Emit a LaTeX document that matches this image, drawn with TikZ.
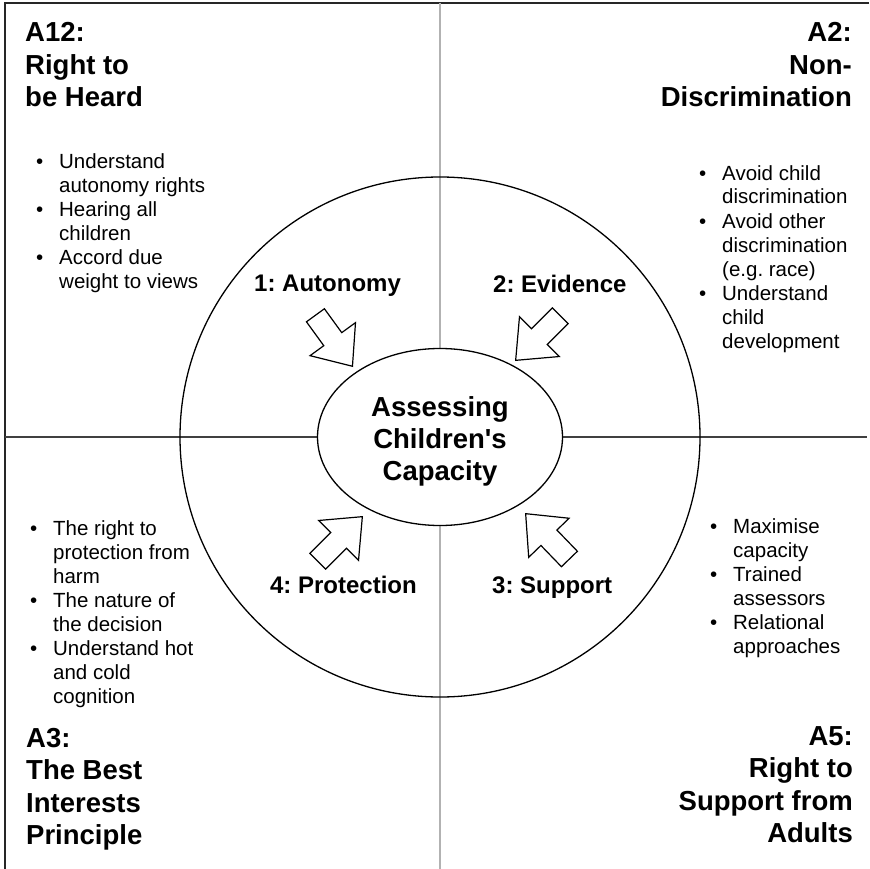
\documentclass[tikz,border=0pt]{standalone}
\usepackage{fontspec}
\setmainfont{Liberation Sans}
\usetikzlibrary{positioning,shapes.geometric,shapes.arrows}
\frenchspacing
\definecolor{divider}{gray}{0.25}
\definecolor{softgrey}{gray}{0.7}
\newcommand{\headL}[1]{\begin{tabular}[t]{@{}l@{}}#1\end{tabular}}
\newcommand{\headR}[1]{\begin{tabular}[t]{@{}r@{}}#1\end{tabular}}
\newcommand{\pointlist}[1]{\begin{tabular}[t]{@{}p{23pt}@{}l@{}}#1\end{tabular}}
\tikzset{
  frame line/.style={line width=2.4pt, black!85},
  quarter v/.style={line width=1.8pt, softgrey},
  quarter h/.style={line width=1.8pt, divider},
  ring/.style={circle, draw, line width=1.3pt, minimum size=520pt, inner sep=0pt},
  hub/.style={ellipse, draw, line width=1.3pt, fill=white, minimum width=245pt, minimum height=177pt, inner sep=0pt},
  hub text/.style={align=center, inner sep=0pt, font=\fontsize{27.5}{32}\selectfont\bfseries},
  head text/.style={inner sep=0pt, font=\fontsize{27.5}{32.5}\selectfont\bfseries},
  list text/.style={inner sep=0pt, anchor=base west, font=\fontsize{20.5}{24}\selectfont},
  arrow label/.style={inner sep=0pt, font=\fontsize{24}{28}\selectfont\bfseries},
  hollow arrow/.style={single arrow, draw, line width=1.2pt, fill=white, anchor=tip,
    minimum height=63pt, inner sep=10.5pt, single arrow head extend=17pt, single arrow tip angle=80},
}
\begin{document}
\begin{tikzpicture}[x=1pt, y=-1pt]
  \useasboundingbox (0,0) rectangle (869,869);
  % Frame and quarters
  \coordinate (nw) at (5,3);
  \coordinate (ne) at (869,3);
  \coordinate (sw) at (5,869);
  \coordinate (midN) at (440,3);
  \coordinate (midS) at (440,869);
  \coordinate (midW) at (5,437);
  \coordinate (midE) at (867,437);
  \draw[frame line] (ne) -- (nw) -- (sw);
  \draw[quarter v] (midN) -- (midS);
  \draw[quarter h] (midW) -- (midE);
  % Nodes
  \node[ring] (ring) at (440,437) {};
  \node[hub] (hub) at (440,437) {};
  \node[hub text] (hubtext) at (440,441) {Assessing\\Children\textquotesingle s\\Capacity};
  \node[hollow arrow, rotate=-54] (autonomy) at (353,367) {};
  \node[hollow arrow, rotate=-135] (evidence) at (515,361) {};
  \node[hollow arrow, rotate=134] (support) at (525,513) {};
  \node[hollow arrow, rotate=45] (protection) at (363,516) {};
  \node[arrow label, anchor=base west] (lblA) at (254,291) {1: Autonomy};
  \node[arrow label, anchor=base west] (lblE) at (493,292) {2: Evidence};
  \node[arrow label, anchor=base west] (lblS) at (492,593) {3: Support};
  \node[arrow label, anchor=base east] (lblP) at (417,593) {4: Protection};
  % Articles
  \node[head text, anchor=base west] (a12) at (25,42) {\headL{A12:\\Right to\\be Heard}};
  \node[head text, anchor=base east] (a2) at (852,42) {\headR{A2:\\Non-\\Discrimination}};
  \node[head text, anchor=base west] (a3) at (26,747) {\headL{A3:\\The Best\\Interests\\Principle}};
  \node[head text, anchor=base east] (a5) at (853,745) {\headR{A5:\\Right to\\Support from\\Adults}};
  % Points
  \node[list text] (ptsA12) at (36,168) {\pointlist{\textbullet & Understand\\ & autonomy rights\\
    \textbullet & Hearing all\\ & children\\ \textbullet & Accord due\\ & weight to views}};
  \node[list text] (ptsA2) at (699,180) {\pointlist{\textbullet & Avoid child\\ & discrimination\\
    \textbullet & Avoid other\\ & discrimination\\ & (e.g. race)\\
    \textbullet & Understand\\ & child\\ & development}};
  \node[list text] (ptsA3) at (30,535) {\pointlist{\textbullet & The right to\\ & protection from\\ & harm\\
    \textbullet & The nature of\\ & the decision\\
    \textbullet & Understand hot\\ & and cold\\ & cognition}};
  \node[list text] (ptsA5) at (710,533) {\pointlist{\textbullet & Maximise\\ & capacity\\
    \textbullet & Trained\\ & assessors\\ \textbullet & Relational\\ & approaches}};
\end{tikzpicture}
\end{document}
